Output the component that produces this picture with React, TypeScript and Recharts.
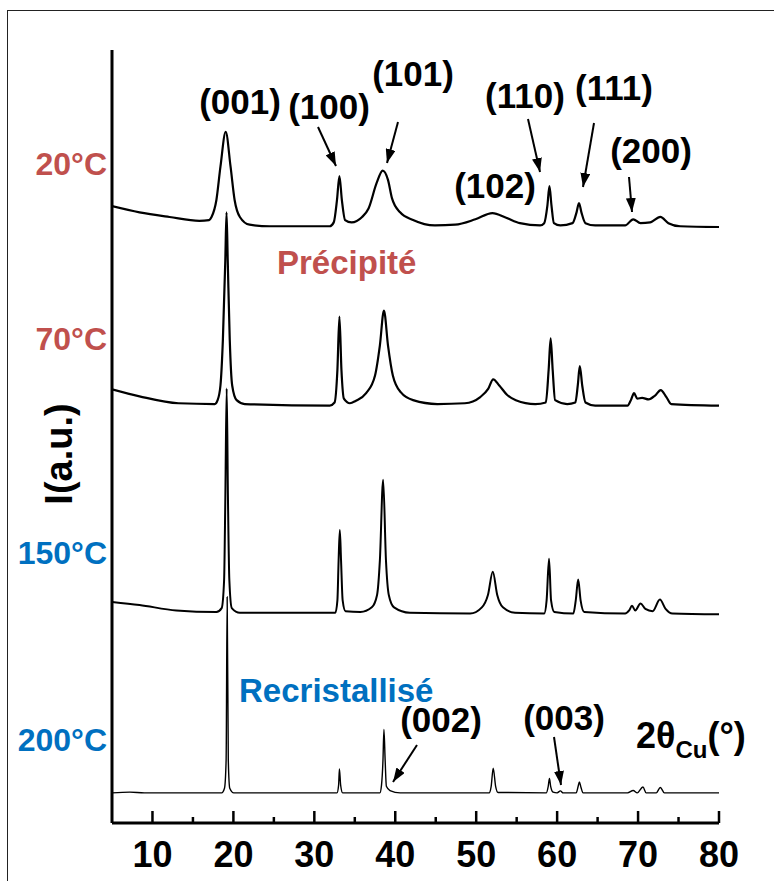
import React from "react";
import { LineChart, Line, XAxis, YAxis } from "recharts";

// XRD patterns of the hydroxide, stacked by synthesis temperature.

const FONT = "'Liberation Sans', Arial, sans-serif";
const RED = "#c0504d";
const BLUE = "#0070c0";

const xTicks = [10, 15, 20, 25, 30, 35, 40, 45, 50, 55, 60, 65, 70, 75, 80];
const temps = ["20°C", "70°C", "150°C", "200°C"];

// [2θ, I (a.u., offset included)]
const c20: [number, number][] = [
  [5.0, 79.8], [8.4, 79.0], [12.1, 78.4], [15.8, 77.9], [17.0, 78.0], [17.3, 78.4], [17.9, 80.6], [18.4, 84.9],
  [19.05, 89.4], [19.65, 84.9], [20.15, 80.6], [20.8, 78.4], [22.0, 77.4], [24.5, 77.2], [31.9, 77.2], [32.4, 77.7],
  [32.8, 80.6], [33.1, 83.7], [33.4, 80.6], [33.8, 78.0], [34.6, 77.7], [35.9, 78.4], [36.7, 79.5], [37.7, 82.8],
  [38.45, 84.4], [39.1, 83.2], [39.6, 80.8], [40.6, 79.0], [42.2, 78.0], [44.9, 77.3], [47.4, 77.4], [49.9, 78.1],
  [52.0, 78.9], [53.7, 78.3], [55.4, 77.6], [57.9, 77.3], [58.4, 77.6], [58.8, 79.9], [59.05, 82.4], [59.3, 79.9],
  [59.6, 77.6], [60.4, 77.3], [61.9, 77.6], [62.4, 79.0], [62.7, 80.2], [63.0, 79.0], [63.5, 77.6], [64.7, 77.3],
  [68.4, 77.3], [69.4, 78.1], [70.3, 77.6], [71.5, 77.7], [72.75, 78.4], [73.75, 77.6], [75.2, 77.2], [80, 77.1],
];

const c70: [number, number][] = [
  [5.0, 56.1], [8.4, 55.2], [13.2, 54.3], [17.7, 54.2], [18.05, 54.7], [18.4, 56.6], [18.7, 62.5], [19.0, 72.8],
  [19.15, 79.0], [19.3, 72.8], [19.55, 62.5], [19.85, 56.6], [20.4, 54.7], [21.4, 54.2], [31.9, 54.0], [32.5, 54.4],
  [32.85, 58.6], [33.1, 65.5], [33.35, 58.6], [33.65, 54.9], [34.4, 54.3], [35.1, 54.6], [36.4, 55.6], [37.5, 57.9],
  [38.1, 61.8], [38.6, 66.3], [39.1, 61.8], [39.7, 57.9], [40.7, 55.7], [42.2, 54.7], [45.2, 54.2], [48.6, 54.3],
  [50.5, 55.1], [51.5, 56.2], [52.1, 57.4], [52.85, 56.6], [53.8, 55.4], [54.9, 54.7], [57.3, 54.2], [58.6, 54.4],
  [58.95, 58.6], [59.2, 62.7], [59.45, 58.6], [59.75, 54.7], [61.25, 54.2], [62.25, 54.4], [62.55, 56.6], [62.8, 59.1],
  [63.1, 56.6], [63.5, 54.4], [64.7, 54.0], [68.7, 54.0], [69.15, 54.8], [69.5, 55.6], [69.9, 54.9], [70.5, 55.0],
  [71.3, 54.8], [72.1, 55.3], [72.8, 56.0], [73.5, 55.1], [74.1, 54.2], [80, 54.0],
];

const c150: [number, number][] = [
  [5.0, 28.6], [8.4, 28.2], [12.95, 27.5], [17.9, 27.3], [18.55, 27.8], [18.85, 31.4], [19.0, 41.8], [19.17, 56.2],
  [19.33, 41.8], [19.5, 31.4], [19.8, 27.8], [20.8, 27.2], [32.6, 27.2], [32.85, 28.8], [33.0, 34.0], [33.15, 37.9],
  [33.3, 34.0], [33.5, 28.8], [33.85, 27.4], [35.7, 27.3], [37.1, 27.9], [37.75, 29.5], [38.1, 34.0], [38.5, 44.4],
  [38.85, 34.0], [39.2, 29.5], [39.85, 27.9], [41.8, 27.2], [49.25, 27.1], [50.7, 27.9], [51.45, 29.5], [52.05, 32.5],
  [52.6, 29.5], [53.3, 27.9], [54.8, 27.2], [58.4, 27.1], [58.7, 28.8], [59.0, 34.2], [59.25, 28.8], [59.65, 27.3],
  [62.0, 27.1], [62.3, 28.8], [62.6, 31.5], [62.9, 28.8], [63.35, 27.3], [68.4, 27.1], [68.9, 27.5], [69.25, 28.1],
  [69.65, 27.5], [70.3, 28.4], [70.9, 27.7], [71.8, 27.4], [72.7, 28.9], [73.4, 27.7], [74.25, 27.1], [80, 27.0],
];

const c200: [number, number][] = [
  [5.0, 3.9], [7.2, 4.0], [9.0, 3.9], [18.55, 3.9], [18.9, 4.5], [19.1, 8.1], [19.23, 29.25], [19.37, 8.1],
  [19.55, 4.5], [20.05, 3.9], [32.8, 3.9], [33.0, 4.9], [33.1, 7.0], [33.25, 4.9], [33.5, 3.9], [38.1, 3.9],
  [38.3, 4.9], [38.48, 8.1], [38.6, 12.1], [38.75, 8.1], [38.9, 4.75], [39.35, 4.2], [40.6, 3.9], [51.6, 3.9],
  [51.85, 4.75], [52.1, 7.1], [52.4, 4.75], [52.7, 3.95], [58.65, 3.9], [58.9, 4.75], [59.05, 5.75], [59.2, 4.75],
  [59.5, 4.0], [60.0, 3.9], [60.4, 4.15], [60.75, 3.9], [62.35, 3.9], [62.6, 4.75], [62.75, 5.3], [62.95, 4.6],
  [63.2, 3.9], [68.7, 3.9], [69.4, 4.2], [69.9, 3.9], [70.6, 4.65], [71.0, 3.9], [72.25, 3.9], [72.75, 4.6],
  [73.25, 3.9], [80, 3.9],
];

const toRows = (c: [number, number][]) => c.map(([t, v]) => ({ t, v }));
const series = [
  { name: temps[0], data: toRows(c20), w: 2.2 },
  { name: temps[1], data: toRows(c70), w: 2.2 },
  { name: temps[2], data: toRows(c150), w: 2 },
  { name: temps[3], data: toRows(c200), w: 1.4 },
];

function XTick(props: any) {
  const { x, y, payload } = props;
  const major = payload.value % 10 === 0;
  return (
    <g>
      <line x1={x} x2={x} y1={y} y2={y - (major ? 12 : 6)} stroke="#000" strokeWidth={2.5} />
      {major && (
        <text x={x} y={y + 44} textAnchor="middle" fontSize={36} fontWeight="bold" fontFamily={FONT} fill="#000">
          {payload.value}
        </text>
      )}
    </g>
  );
}

// annotation arrows: [x1, y1, x2, y2]
const arrows = [
  [318, 127, 336, 166], [398, 122, 387, 163], [528, 119, 540, 172], [594, 123, 583, 187],
  [629, 177, 632, 212], [417, 745, 393, 782], [554, 737, 561, 785],
];
const hkl = [
  { s: "(001)", x: 240, y: 114 }, { s: "(100)", x: 329, y: 119 }, { s: "(101)", x: 413, y: 86 },
  { s: "(110)", x: 525, y: 108 }, { s: "(111)", x: 614, y: 100 }, { s: "(102)", x: 495, y: 198 },
  { s: "(200)", x: 651, y: 163 }, { s: "(002)", x: 441, y: 732 }, { s: "(003)", x: 564, y: 730 },
];
const tempLabels = [
  { s: temps[0], y: 175, c: RED }, { s: temps[1], y: 350, c: RED },
  { s: temps[2], y: 564, c: BLUE }, { s: temps[3], y: 751, c: BLUE },
];

export default function App() {
  return (
    <div style={{ position: "absolute", left: 0, top: 0, width: 774, height: 881, background: "#fff", overflow: "hidden" }}>
      <div style={{ position: "absolute", left: 7, top: 10, width: 820, height: 920, border: "1.5px solid #222" }} />
      <LineChart width={774} height={881} margin={{ top: 50, right: 55, left: 0, bottom: 0 }}>
        <XAxis type="number" dataKey="t" domain={[5, 80]} ticks={xTicks} interval={0} height={58}
          axisLine={{ stroke: "#000", strokeWidth: 3 }} tickLine={false} tickSize={0} tickMargin={0}
          tick={<XTick />} allowDataOverflow />
        <YAxis type="number" domain={[0, 100]} width={112} tick={false} tickLine={false}
          axisLine={{ stroke: "#000", strokeWidth: 3 }} />
        {series.map((s) => (
          <Line key={s.name} data={s.data} dataKey="v" name={s.name} type="monotone" stroke="#000"
            strokeWidth={s.w} dot={false} activeDot={false} isAnimationActive={false} />
        ))}
      </LineChart>
      <svg width={774} height={881} style={{ position: "absolute", left: 0, top: 0, pointerEvents: "none" }}
        fontFamily={FONT} fontWeight="bold">
        <defs>
          <marker id="ah" viewBox="0 0 14 10" refX={14} refY={5} markerWidth={14} markerHeight={10}
            markerUnits="userSpaceOnUse" orient="auto">
            <path d="M0,0 L14,5 L0,10 z" fill="#000" />
          </marker>
        </defs>
        {arrows.map(([x1, y1, x2, y2], i) => (
          <line key={i} x1={x1} y1={y1} x2={x2} y2={y2} stroke="#000" strokeWidth={2} markerEnd="url(#ah)" />
        ))}
        {hkl.map((h) => (
          <text key={h.s + h.x} x={h.x} y={h.y} textAnchor="middle" fontSize={35} fill="#000">{h.s}</text>
        ))}
        {tempLabels.map((t) => (
          <text key={t.s} x={107} y={t.y} textAnchor="end" fontSize={32} fill={t.c}>{t.s}</text>
        ))}
        <text x={277} y={274} fontSize={33} fill={RED}>Précipité</text>
        <text x={239} y={702} fontSize={33} fill={BLUE}>Recristallisé</text>
        <text transform="translate(72,454) rotate(-90)" textAnchor="middle" fontSize={38} fill="#000">I(a.u.)</text>
        <text x={636} y={748} fontSize={36} fill="#000">
          2θ<tspan fontSize={24} dy={10}>Cu</tspan><tspan fontSize={36} dy={-10}>(°)</tspan>
        </text>
      </svg>
    </div>
  );
}
